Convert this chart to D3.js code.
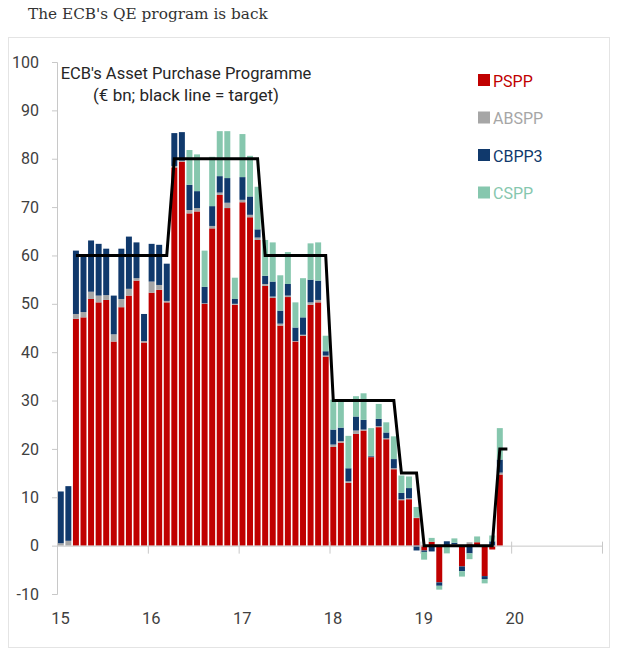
<!DOCTYPE html>
<html>
<head>
<meta charset="utf-8">
<script src="https://cdn.jsdelivr.net/npm/d3@7"></script>
<style>
  body { margin: 0; background: #fff; }
  svg text { font-family: Roboto, "DejaVu Sans", sans-serif; }
  svg text.serif { font-family: "DejaVu Serif", Georgia, serif; }
</style>
</head>
<body>
<div id="chart"></div>
<script>
// monthly purchases, Jan 2015 .. Nov 2019 (EUR bn)
const yearLabels = ["15", "16", "17", "18", "19", "20", ""];

const pspp = [
  0, 0, 46.9, 47.2, 51.0, 50.3, 50.8, 42.2, 49.3, 51.7, 54.8, 42.0,
  52.3, 52.9, 50.3, 78.2, 79.4, 68.7, 69.1, 50.0, 65.6, 72.5, 69.8, 49.8,
  71.0, 67.9, 63.2, 53.7, 51.2, 45.5, 51.4, 42.2, 43.4, 49.8, 50.3, 39.1,
  20.4, 21.3, 13.0, 23.1, 23.8, 18.3, 24.5, 22.0, 15.8, 9.4, 9.6, 5.7,
  -1.0, 0.8, -7.6, 0, 0.2, -4.3, 0.3, 0.7, -6.3, -0.8, 14.7
];
const abspp = [
  0.5, 1.0, 1.0, 1.1, 1.5, 1.4, 1.0, 1.5, 1.7, 1.4, 0.5, 0.3,
  2.3, 1.0, 0.3, 0.3, 0.2, 0.7, 0.7, 0.1, 0.5, 0.5, 1.1, 0.2,
  0.5, 0.5, 0.5, 0.4, 0.3, 0.4, 0.3, 0.1, 0.2, 0.5, 0.5, 0.2,
  0.5, 0.3, 0.3, 0.7, 0.2, 0.1, 0.2, 0.2, 0.2, 0.2, 0.2, 0.1,
  0, 0, 0, 0, 0.1, 0, 0.4, 0, 0, 0, 0.4
];
const cbpp3 = [
  10.7, 11.3, 13.1, 12.0, 10.6, 10.7, 9.6, 8.0, 10.4, 10.8, 7.4, 5.6,
  7.8, 8.3, 7.7, 6.8, 5.9, 5.2, 3.5, 3.4, 4.1, 3.4, 5.1, 1.0,
  4.7, 3.8, 1.7, 1.7, 3.1, 2.7, 2.4, 2.8, 3.6, 4.7, 4.0, 0.9,
  3.1, 2.8, 2.7, 2.9, 2.0, 0.2, 1.5, 1.2, 1.9, 1.3, 2.1, -1.0,
  -0.3, -1.2, -0.7, 0.9, 0.3, -1.0, -1.6, 0, -0.6, 0.9, 2.7
];
const cspp = [
  0, 0, 0, 0, 0, 0, 0, 0, 0, 0, 0, 0,
  0, 0, 0, 0, 0, 7.2, 7.6, 7.5, 10.2, 9.3, 9.7, 4.4,
  8.9, 8.4, 8.8, 7.4, 8.1, 7.3, 6.6, 5.2, 8.1, 7.5, 7.9, 3.2,
  6.2, 5.8, 6.7, 4.2, 5.5, 5.7, 3.1, 2.1, 4.7, 3.6, 2.4, 2.2,
  -1.6, 0.8, -0.8, -1.6, 0.9, -1.1, -1.2, 1.2, -0.9, 1.2, 6.5
];
// monthly target, Mar 2015 .. Dec 2019
const targetStart = 2; // month index of Mar 2015
const target = [
  60, 60, 60, 60, 60, 60, 60, 60, 60, 60,
  60, 60, 60, 80, 80, 80, 80, 80, 80, 80, 80, 80,
  80, 80, 80, 60, 60, 60, 60, 60, 60, 60, 60, 60,
  30, 30, 30, 30, 30, 30, 30, 30, 30, 15, 15, 15,
  0, 0, 0, 0, 0, 0, 0, 0, 0, 0, 20, 20
];

const series = [
  { key: "PSPP",  values: pspp,  color: "#c00000" },
  { key: "ABSPP", values: abspp, color: "#a6a6a6" },
  { key: "CBPP3", values: cbpp3, color: "#10396c" },
  { key: "CSPP",  values: cspp,  color: "#86c7ae" }
];

const width = 617, height = 652;
const svg = d3.select("#chart").append("svg")
    .attr("width", width)
    .attr("height", height);

svg.append("text")
    .attr("class", "serif")
    .attr("x", 28)
    .attr("y", 19)
    .attr("font-size", 15.3)
    .attr("fill", "#333")
    .text("The ECB's QE program is back");

svg.append("rect")
    .attr("x", 8.5).attr("y", 37.5)
    .attr("width", 601).attr("height", 610)
    .attr("fill", "none")
    .attr("stroke", "#e4e4e4");

const nMonths = (yearLabels.length - 1) * 12;
const x = d3.scaleLinear().domain([0, nMonths]).range([57, 602]);
const y = d3.scaleLinear().domain([-10, 100]).range([594, 62]);
const step = x(1) - x(0);

const rows = pspp.map((d, i) => {
    const r = { i };
    series.forEach(s => { r[s.key] = s.values[i]; });
    return r;
});

const stacked = d3.stack()
    .keys(series.map(s => s.key))
    .offset(d3.stackOffsetDiverging)(rows);

svg.append("g")
    .selectAll("g")
    .data(stacked)
    .join("g")
    .attr("fill", (d, k) => series[k].color)
    .selectAll("rect")
    .data(d => d)
    .join("rect")
    .attr("x", d => x(d.data.i) + 0.8)
    .attr("width", step - 1.6)
    .attr("y", d => y(Math.max(d[0], d[1])))
    .attr("height", d => Math.abs(y(d[0]) - y(d[1])));

// y axis
const yAxis = svg.append("g")
    .attr("transform", `translate(${x(0)},0)`)
    .call(d3.axisLeft(y)
        .tickValues(d3.range(-10, 101, 10))
        .tickFormat(d => String(d))
        .tickSize(5).tickPadding(13));
yAxis.attr("font-family", null);
yAxis.select(".domain").attr("stroke", "#c8c8c8");
yAxis.selectAll(".tick line").attr("stroke", "#c8c8c8");
yAxis.selectAll(".tick text")
    .attr("font-size", 16)
    .attr("fill", "#404040");

// x axis at zero
const xAxis = svg.append("g")
    .attr("transform", `translate(0,${y(0)})`)
    .call(d3.axisBottom(x)
        .tickValues(d3.range(0, nMonths + 1, 12))
        .tickFormat((d, k) => yearLabels[k])
        .tickSizeInner(8).tickSizeOuter(0).tickPadding(59));
xAxis.attr("font-family", null);
xAxis.select(".domain").attr("stroke", "#c8c8c8");
xAxis.selectAll(".tick line").attr("stroke", "#c8c8c8").attr("y1", -4);
xAxis.selectAll(".tick text")
    .attr("x", 3)
    .attr("font-size", 16.5)
    .attr("fill", "#404040");

// target line
const line = d3.line()
    .x((d, k) => x(targetStart + k + 0.5))
    .y(d => y(d));
svg.append("path")
    .datum(target)
    .attr("fill", "none")
    .attr("stroke", "#000")
    .attr("stroke-width", 3)
    .attr("d", line);

// titles
svg.append("text")
    .attr("x", 186).attr("y", 79)
    .attr("text-anchor", "middle")
    .attr("font-size", 16.5)
    .attr("fill", "#262626")
    .text("ECB's Asset Purchase Programme");
svg.append("text")
    .attr("x", 186).attr("y", 101)
    .attr("text-anchor", "middle")
    .attr("font-size", 17)
    .attr("fill", "#262626")
    .text("(€ bn; black line = target)");

// legend
const item = svg.append("g")
    .attr("transform", "translate(478,74)")
    .selectAll("g")
    .data(series)
    .join("g")
    .attr("transform", (d, k) => `translate(0,${k * 37.5})`);
item.append("rect")
    .attr("width", 12).attr("height", 12)
    .attr("fill", d => d.color);
item.append("text")
    .attr("x", 15).attr("y", 12.5)
    .attr("font-size", 16)
    .attr("fill", d => d.color)
    .text(d => d.key);
</script>
</body>
</html>
